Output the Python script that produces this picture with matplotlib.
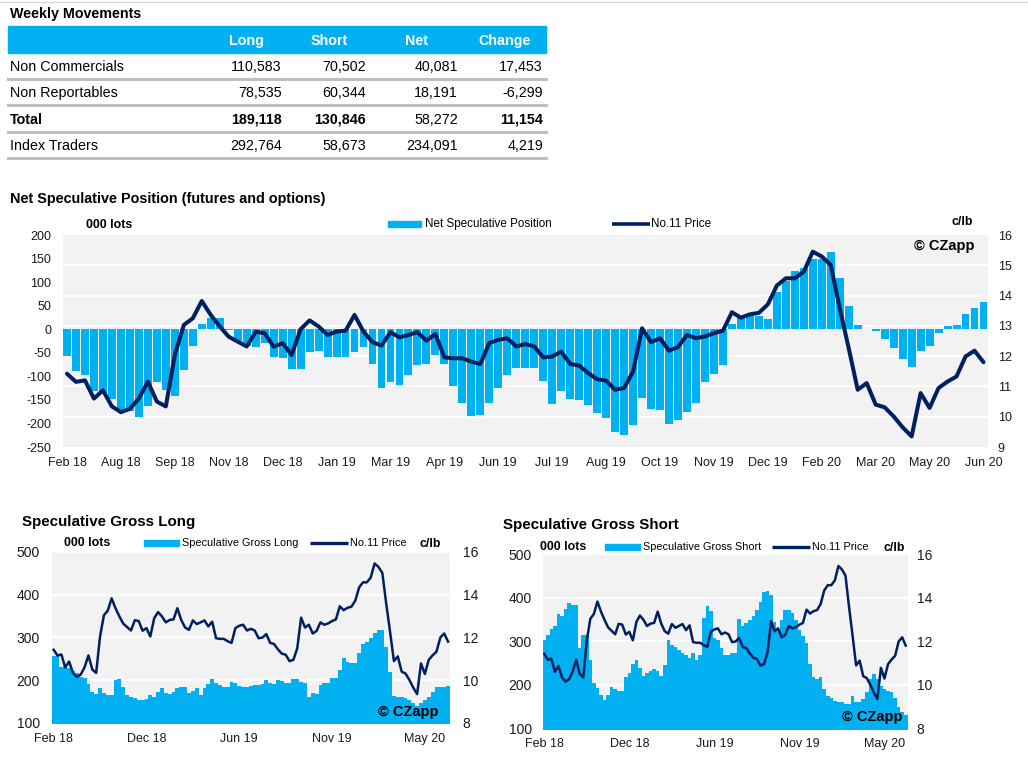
import numpy as np
import matplotlib
matplotlib.use('Agg')
import matplotlib.pyplot as plt
from matplotlib.patches import Rectangle
from matplotlib.lines import Line2D
import matplotlib.transforms as mtransforms

plt.rcParams['font.family'] = ['Liberation Sans', 'DejaVu Sans']
plt.rcParams['axes.unicode_minus'] = False

# ---- data ----
row_names = ['Non Commercials', 'Non Reportables', 'Total', 'Index Traders']
col_names = ['Long', 'Short', 'Net', 'Change']
long_tbl = [110583, 78535, 189118, 292764]
short_tbl = [70502, 60344, 130846, 58673]
net_tbl = [40081, 18191, 58272, 234091]
change_tbl = [17453, -6299, 11154, 4219]

net_labels = ['Feb 18', 'Aug 18', 'Sep 18', 'Nov 18', 'Dec 18', 'Jan 19', 'Mar 19',
              'Apr 19', 'Jun 19', 'Jul 19', 'Aug 19', 'Oct 19', 'Nov 19', 'Dec 19',
              'Feb 20', 'Mar 20', 'May 20', 'Jun 20']
gross_labels = ['Feb 18', 'Dec 18', 'Jun 19', 'Nov 19', 'May 20']

# net speculative position, 000 lots (weekly)
net_pos = [-56, -89, -98, -132, -138, -148, -176, -174, -187, -162,
           -113, -130, -142, -87, -35, 11, 24, 24, -2, -24,
           -35, -37, -29, -59, -61, -84, -84, -49, -46, -60,
           -58, -60, -48, -38, -73, -125, -111, -119, -98, -76,
           -74, -54, -74, -121, -157, -185, -182, -157, -125, -98,
           -83, -83, -83, -110, -158, -132, -149, -151, -161, -177,
           -188, -218, -225, -203, -146, -170, -172, -201, -193, -176,
           -157, -111, -94, -75, 12, 25, 29, 29, 22, 80,
           102, 123, 130, 148, 150, 164, 108, 50, 8, 0,
           -3, -20, -39, -64, -81, -47, -35, -9, 6, 8,
           32, 46, 58]

# No.11 price, c/lb
price = [11.42, 11.15, 11.2, 10.6, 10.87, 10.34, 10.15, 10.26, 10.6, 11.16,
         10.5, 10.34, 12.04, 13.03, 13.25, 13.82, 13.36, 12.98, 12.64, 12.48,
         12.32, 12.8, 12.76, 12.31, 12.43, 12.04, 12.89, 13.18, 12.98, 12.7,
         12.81, 12.84, 13.36, 12.81, 12.46, 12.35, 12.79, 12.62, 12.7, 12.79,
         12.51, 12.73, 11.96, 11.93, 11.93, 11.82, 11.74, 12.43, 12.54, 12.59,
         12.32, 12.4, 12.32, 11.96, 11.99, 12.15, 11.74, 11.69, 11.44, 11.24,
         11.19, 10.89, 10.95, 11.49, 12.92, 12.46, 12.59, 12.18, 12.3, 12.7,
         12.59, 12.65, 12.76, 12.84, 13.45, 13.27, 13.38, 13.43, 13.71, 14.33,
         14.57, 14.57, 14.79, 15.45, 15.29, 15.01, 13.58, 12.26, 10.89, 11.11,
         10.4, 10.31, 10.01, 9.65, 9.35, 10.78, 10.29, 10.95, 11.16, 11.33,
         11.99, 12.18, 11.8]

gross_long = [256, 259, 230, 233, 228, 221, 216, 208, 204, 191,
              173, 168, 181, 169, 165, 165, 200, 202, 185, 165,
              161, 158, 154, 154, 155, 165, 161, 173, 181, 169,
              168, 173, 181, 185, 183, 171, 175, 181, 165, 181,
              191, 202, 194, 189, 185, 185, 196, 194, 186, 185,
              185, 187, 189, 189, 191, 200, 194, 192, 200, 199,
              194, 193, 202, 202, 196, 193, 161, 171, 168, 189,
              193, 194, 204, 205, 224, 251, 243, 241, 239, 264,
              284, 288, 298, 309, 316, 316, 278, 220, 164, 160,
              160, 158, 154, 146, 140, 146, 154, 161, 173, 185,
              185, 185, 187]

gross_short = [304, 315, 327, 336, 362, 358, 373, 387, 382, 382,
               285, 315, 315, 258, 204, 192, 177, 165, 177, 196,
               190, 185, 185, 219, 228, 248, 256, 238, 221, 227,
               231, 236, 231, 221, 246, 304, 292, 287, 281, 273,
               269, 262, 273, 258, 269, 354, 381, 369, 308, 304,
               285, 269, 269, 272, 272, 352, 334, 341, 349, 358,
               371, 390, 413, 415, 405, 345, 326, 349, 371, 371,
               364, 349, 326, 311, 296, 247, 217, 213, 217, 190,
               175, 169, 164, 160, 160, 156, 156, 174, 160, 160,
               168, 183, 213, 226, 213, 198, 190, 186, 183, 171,
               149, 138, 131]

navy = '#002060'
blue = '#00B0F0'
bg = '#F2F2F2'
txt = '#1A1A1A'
narrow = ['Liberation Sans Narrow', 'Liberation Sans', 'DejaVu Sans']

W, H = 1028, 761
fig = plt.figure(figsize=(W / 100, H / 100), dpi=100)


def fx(x):
    return x / W


def fy(y):
    return 1 - y / H


def axes_px(left, top, right, bottom):
    return fig.add_axes([fx(left), fy(bottom), (right - left) / W, (bottom - top) / H])


def clean(ax):
    for s in ax.spines.values():
        s.set_visible(False)
    ax.tick_params(length=0, colors=txt)


def legend_box(x0, x1, y, h):
    fig.patches.append(Rectangle((fx(x0), fy(y + h / 2)), (x1 - x0) / W, h / H,
                                 transform=fig.transFigure, color=blue))


def legend_line(x0, x1, y, lw):
    fig.lines.append(Line2D([fx(x0), fx(x1)], [fy(y), fy(y)], transform=fig.transFigure,
                            color=navy, lw=lw, solid_capstyle='butt'))


# top rule
fig.lines.append(Line2D([0, 1], [fy(2), fy(2)], transform=fig.transFigure, color='#D9D9D9', lw=1))

# ---- table ----
fig.text(fx(10), fy(14), 'Weekly Movements', fontsize=10.3, fontweight='bold', va='center')
fig.patches.append(Rectangle((fx(8), fy(53)), (546 - 8) / W, (53 - 26) / H,
                             transform=fig.transFigure, color=blue))
for name, xc in zip(col_names, [246, 329, 417, 505]):
    fig.text(fx(xc), fy(41), name, color='white', fontsize=10.3, fontweight='bold',
             ha='center', va='center')

row_y = [67, 93, 119.5, 146]
num_x = [282, 366, 458, 543]
for i, name in enumerate(row_names):
    bold = name == 'Total'
    fig.text(fx(10), fy(row_y[i]), name, fontsize=10.3, va='center',
             fontweight='bold' if bold else 'normal')
    vals = [long_tbl[i], short_tbl[i], net_tbl[i], change_tbl[i]]
    for j, v in enumerate(vals):
        b = bold and j != 2
        fig.text(fx(num_x[j]), fy(row_y[i]), f'{v:,}', fontsize=10.3, va='center', ha='right',
                 fontweight='bold' if b else 'normal')
    sep = row_y[i] + 12
    fig.lines.append(Line2D([fx(8), fx(546)], [fy(sep), fy(sep)], transform=fig.transFigure,
                            color='#BFBFBF', lw=2.2))

# ---- net speculative position ----
fig.text(fx(10), fy(199), 'Net Speculative Position (futures and options)',
         fontsize=10.4, fontweight='bold', va='center')

x = np.arange(len(net_pos))
ax = axes_px(62.5, 235, 988, 447)
ax.set_facecolor(bg)
clean(ax)
ax.bar(x, net_pos, width=0.88, color=blue, zorder=2)
ax.set_xlim(-0.5, len(net_pos) - 0.5)
ax.set_ylim(-250, 200)
ax.set_yticks(np.arange(-250, 201, 50))
ax.set_xticks(x[::6])
ax.set_xticklabels(net_labels)
ax.tick_params(axis='y', labelsize=9, pad=8)
ax.tick_params(axis='x', labelsize=9, pad=7)

ax2 = ax.twinx()
clean(ax2)
ax2.set_ylim(9, 16)
ax2.set_yticks(np.arange(9, 17, 1))
ax2.tick_params(axis='y', labelsize=9, pad=7)
grid_tr = mtransforms.blended_transform_factory(ax.transAxes, ax2.transData)
for p in range(10, 16):
    ax.add_line(Line2D([0, 1], [p, p], transform=grid_tr, color='white', lw=1.3, zorder=1))
ax2.plot(x, price, color=navy, lw=2.9, solid_joinstyle='round', solid_capstyle='round')

fig.text(fx(86), fy(225), '000 lots', fontsize=8.9, fontweight='bold', va='center')
fig.text(fx(951), fy(222), 'c/lb', fontsize=8.9, fontweight='bold', va='center')
fig.text(fx(975), fy(246), '\u00a9 CZapp', fontsize=10.5, fontweight='bold', va='center',
         ha='right', family=narrow)
legend_box(388, 421, 224, 5.5)
fig.text(fx(425), fy(224), 'Net Speculative Position', fontsize=8.4, va='center')
legend_line(612, 650, 224, 2.6)
fig.text(fx(651), fy(224), 'No.11 Price', fontsize=8.4, va='center')


# ---- gross long / gross short ----
def gross_chart(box, values, title, tpos, leg, label_pads):
    left, top, right, bottom = box
    a = axes_px(left, top, right, bottom)
    a.set_facecolor(bg)
    clean(a)
    n = len(values)
    edges = np.arange(n + 1) - 0.5
    a.fill_between(edges, np.append(values, values[-1]), 0, step='post',
                   color=blue, lw=0, zorder=2)
    a.set_xlim(-0.5, n - 0.5)
    a.set_ylim(100, 500)
    a.set_yticks(np.arange(100, 501, 100))
    a.grid(axis='y', color='white', lw=1.3)
    a.set_axisbelow(True)
    a.set_xticks(np.arange(n)[::24])
    a.set_xticklabels(gross_labels)
    a.tick_params(axis='y', labelsize=10, pad=label_pads[0])
    a.tick_params(axis='x', labelsize=9, pad=7)
    b = a.twinx()
    clean(b)
    b.set_ylim(8, 16)
    b.set_yticks(np.arange(8, 17, 2))
    b.tick_params(axis='y', labelsize=10, pad=label_pads[1])
    b.plot(np.arange(n), price, color=navy, lw=1.8, solid_joinstyle='round')

    fig.text(fx(tpos[0]), fy(tpos[1]), title, fontsize=10.9, fontweight='bold', va='center')
    ly = leg['y']
    fig.text(fx(leg['lots']), fy(ly), '000 lots', fontsize=8.9, fontweight='bold', va='center')
    legend_box(leg['box'][0], leg['box'][1], ly, 6)
    fig.text(fx(leg['box'][1] + 3), fy(ly), title, fontsize=7.8, va='center')
    legend_line(leg['line'][0], leg['line'][1], ly, 2.4)
    fig.text(fx(leg['line'][1] + 2), fy(ly), 'No.11 Price', fontsize=7.8, va='center')
    fig.text(fx(leg['clb']), fy(ly + 1), 'c/lb', fontsize=8.9, fontweight='bold', va='center')
    fig.text(fx(leg['cz'][0]), fy(leg['cz'][1]), '\u00a9 CZapp', fontsize=10.5, fontweight='bold',
             va='center', ha='right', family=narrow)


gross_chart((51.7, 551.7, 450, 723), gross_long, 'Speculative Gross Long', (22, 522),
            dict(y=543, lots=64, box=(144, 179), line=(310, 348), clb=420, cz=(438, 712)),
            (8.4, 9.0))
gross_chart((542.5, 554, 907.5, 728.5), gross_short, 'Speculative Gross Short', (503, 525),
            dict(y=547, lots=540, box=(605, 640), line=(772, 810), clb=883, cz=(902, 717)),
            (7.5, 6.5))

fig.savefig('out.png', dpi=100)
